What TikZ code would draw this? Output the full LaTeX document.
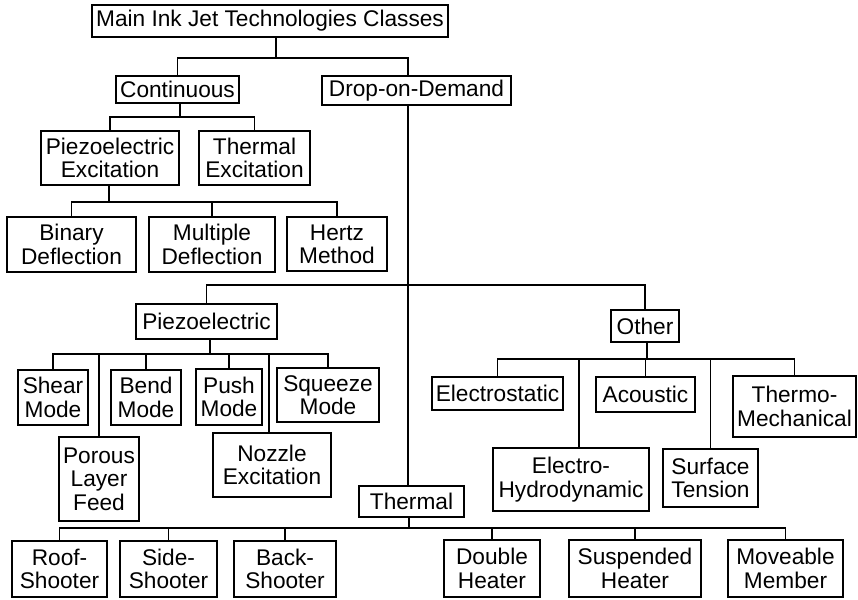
\documentclass[tikz,border=0pt]{standalone}
\usepackage{fontspec}
\setmainfont{Liberation Sans}
\tikzset{
  box/.style={draw, line width=1.5pt, fill=white, inner sep=0pt, align=center,
    font=\fontsize{17}{17.5}\selectfont},
  link/.style={line width=1.2pt}
}
\newcommand{\placebox}[6]{\node[box, minimum width={(#4-#2)*0.75pt}, minimum height={(#5-#3)*0.75pt}] (#1) at ({(#2+#4)/2},{(#3+#5)/2}) {#6};}
\begin{document}
\begin{tikzpicture}[x=0.75pt,y=-0.75pt]
\useasboundingbox (0,0) rectangle (858,600);
% boxes
\placebox{main}{92}{5}{448}{37}{Main Ink Jet Technologies Classes}
\placebox{cont}{116}{76}{239}{103}{Continuous}
\placebox{dod}{322}{76}{511}{105}{Drop-on-Demand}
\placebox{pex}{41}{131}{179}{185}{Piezoelectric\\Excitation}
\placebox{tex}{199}{131}{310}{185}{Thermal\\Excitation}
\placebox{bin}{7}{217}{136}{272}{Binary\\Deflection}
\placebox{mul}{149}{217}{275}{272}{Multiple\\Deflection}
\placebox{her}{287}{217}{387}{271}{Hertz\\Method}
\placebox{piezo}{136}{304}{277}{339}{Piezoelectric}
\placebox{other}{611}{310}{679}{342}{Other}
\placebox{shear}{18}{370}{88}{425}{Shear\\Mode}
\placebox{bend}{111}{370}{181}{425}{Bend\\Mode}
\placebox{push}{196}{369}{262}{425}{Push\\Mode}
\placebox{squeeze}{277}{368}{379}{422}{Squeeze\\Mode}
\placebox{porous}{59}{437}{139}{521}{Porous\\Layer\\Feed}
\placebox{nozzle}{213}{433}{331}{497}{Nozzle\\Excitation}
\placebox{estat}{432}{377}{563}{410}{Electrostatic}
\placebox{acou}{596}{377}{695}{412}{Acoustic}
\placebox{thermo}{733}{376}{856}{437}{Thermo-\\Mechanical}
\placebox{ehd}{493}{448}{649}{511}{Electro-\\Hydrodynamic}
\placebox{surf}{663}{449}{758}{507}{Surface\\Tension}
\placebox{thermal}{359}{486}{464}{517}{Thermal}
\placebox{roof}{12}{541}{107}{597}{Roof-\\Shooter}
\placebox{side}{120}{541}{217}{597}{Side-\\Shooter}
\placebox{back}{234}{541}{336}{597}{Back-\\Shooter}
\placebox{double}{444}{540}{540}{597}{Double\\Heater}
\placebox{susp}{569}{540}{701}{597}{Suspended\\Heater}
\placebox{move}{728}{540}{843}{597}{Moveable\\Member}
% junction coordinates
\coordinate (j0) at (276,58);
\coordinate (xd) at (408,0);
\coordinate (j1) at (180,117);
\coordinate (j2) at (109,202);
\coordinate (j3) at (408,285);
\coordinate (j4) at (210,354);
\coordinate (j5) at (647,359);
\coordinate (j6) at (409,528);
\coordinate (xnoz) at (269,0);
\coordinate (xehd) at (579,0);
% connectors
\draw[link] (main.south -| j0) -- (j0);
\draw[link] (cont.north) |- (j0);
\draw[link] (dod.north -| xd) |- (j0);
\draw[link] (cont.south -| j1) -- (j1);
\draw[link] (pex.north) |- (j1);
\draw[link] (tex.north) |- (j1);
\draw[link] (pex.south -| j2) -- (j2);
\draw[link] (bin.north) |- (j2);
\draw[link] (mul.north) |- (j2);
\draw[link] (her.north) |- (j2);
\draw[link] (dod.south -| xd) -- (thermal.north -| xd);
\draw[link] (piezo.north) |- (j3);
\draw[link] (other.north) |- (j3);
\draw[link] (piezo.south -| j4) -- (j4);
\draw[link] (shear.north) |- (j4);
\draw[link] (porous.north) |- (j4);
\draw[link] (bend.north) |- (j4);
\draw[link] (push.north) |- (j4);
\draw[link] (nozzle.north -| xnoz) |- (j4);
\draw[link] (squeeze.north) |- (j4);
\draw[link] (other.south -| j5) -- (j5);
\draw[link] (estat.north) |- (j5);
\draw[link] (ehd.north -| xehd) |- (j5);
\draw[link] (acou.north) |- (j5);
\draw[link] (surf.north) |- (j5);
\draw[link] (thermo.north) |- (j5);
\draw[link] (thermal.south -| j6) -- (j6);
\draw[link] (roof.north) |- (j6);
\draw[link] (side.north) |- (j6);
\draw[link] (back.north) |- (j6);
\draw[link] (double.north) |- (j6);
\draw[link] (susp.north) |- (j6);
\draw[link] (move.north) |- (j6);
\end{tikzpicture}
\end{document}
